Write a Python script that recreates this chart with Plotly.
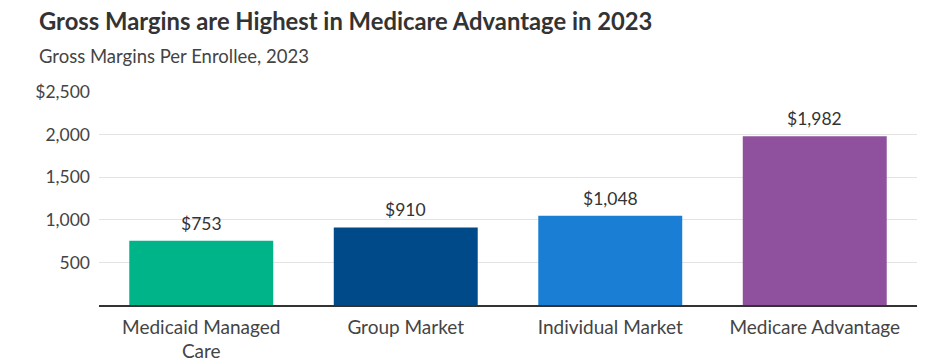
import plotly.graph_objects as go

categories = ["Medicaid Managed<br>Care", "Group Market", "Individual Market", "Medicare Advantage"]
values = [753, 910, 1048, 1982]
value_labels = ["$753", "$910", "$1,048", "$1,982"]
colors = ["#00b48a", "#004a8a", "#1a7fd4", "#8f509d"]
tick_vals = [500, 1000, 1500, 2000, 2500]
tick_text = ["500", "1,000", "1,500", "2,000", "$2,500"]

FONT = "Lato"
# page body has an 8px default margin; the figure is sized to fill the rest of the window
OFF = 8

fig = go.Figure(go.Bar(
    x=categories, y=values,
    marker=dict(color=colors, line=dict(width=0)),
    width=0.704,
))

for cat, val, lab in zip(categories, values, value_labels):
    fig.add_annotation(x=cat, y=val, text=lab, showarrow=False, yanchor="bottom",
                       yshift=5, font=dict(size=17.5, color="#333333", family=FONT))

fig.update_layout(
    width=936 - OFF, height=363 - OFF,
    margin=dict(l=99 - OFF, r=19, t=92 - OFF, b=58),
    paper_bgcolor="white", plot_bgcolor="white",
    font=dict(family=FONT, color="#444444", size=16),
    showlegend=False,
    xaxis=dict(showgrid=False, showline=True, linecolor="#333333", linewidth=1.5,
               tickfont=dict(size=19, color="#444444"), ticks="", automargin=False,
               ticklabelstandoff=4),
    yaxis=dict(range=[0, 2500], tickvals=tick_vals, ticktext=tick_text,
               showgrid=True, gridcolor="#e3e3e3", gridwidth=1, zeroline=False,
               tickfont=dict(size=17.5, color="#444444"), ticks="", ticklabelstandoff=8,
               automargin=False),
)
fig.add_annotation(text="<b>Gross Margins are Highest in Medicare Advantage in 2023</b>",
                   xref="paper", yref="paper", x=-62/818, y=1 + 71/213, xanchor="left", yanchor="middle",
                   showarrow=False, font=dict(size=23.8, color="#333333", family=FONT))
fig.add_annotation(text="Gross Margins Per Enrollee, 2023",
                   xref="paper", yref="paper", x=-62/818, y=1 + 36/213, xanchor="left", yanchor="middle",
                   showarrow=False, font=dict(size=18.5, color="#444444", family=FONT))

fig.write_html("out.html")
